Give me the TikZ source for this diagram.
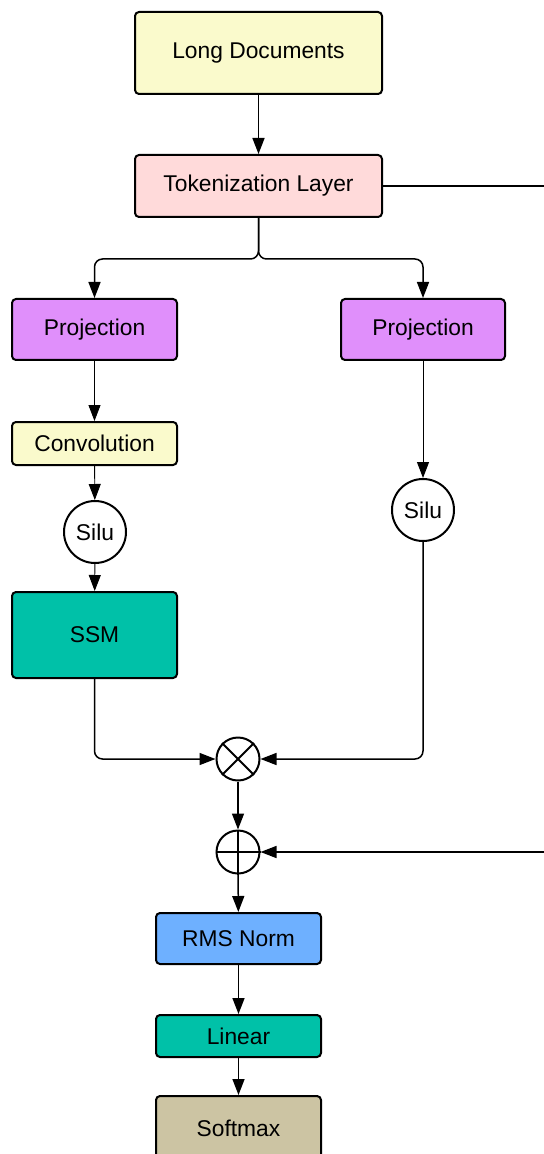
\documentclass[tikz,border=0pt]{standalone}
\usepackage{fontspec}
\setmainfont{Liberation Sans}
\usetikzlibrary{positioning, calc, arrows.meta}

\definecolor{docyellow}{HTML}{FAFACC}
\definecolor{tokpink}{HTML}{FFDADA}
\definecolor{projviolet}{HTML}{E08FFB}
\definecolor{ssmteal}{HTML}{00C1A8}
\definecolor{normblue}{HTML}{6EB0FF}
\definecolor{softkhaki}{HTML}{CCC4A3}

\tikzset{
    blk/.style={draw, line width=1pt, rounded corners=2pt, inner sep=0pt,
        font=\fontsize{11.4}{13}\selectfont},
    act/.style={draw, circle, line width=1pt, fill=white, inner sep=0pt,
        minimum size=31pt, font=\fontsize{11.4}{13}\selectfont},
    opnode/.style={draw, circle, line width=1pt, inner sep=0pt, minimum size=21.5pt},
    arr/.style={-{Triangle[length=8pt,width=6pt]}, line width=0.75pt},
    thinarr/.style={-{Triangle[length=8pt,width=6pt]}, line width=0.45pt},
}

\begin{document}
\begin{tikzpicture}[x=0.5pt, y=-0.5pt]
    % 画像の大きさ
    \def\W{543}
    \def\H{1154}
    \useasboundingbox (0,0) rectangle (\W,\H);

    % 入力
    \node[blk, fill=docyellow, minimum width=123.5pt, minimum height=41pt] (doc) at (258.5,53) {Long Documents};
    \node[blk, fill=tokpink, minimum width=123.5pt, minimum height=31pt] (tok) at (258.5,186) {Tokenization Layer};

    % 左の枝
    \node[blk, fill=projviolet, minimum width=82.5pt, minimum height=30.5pt] (projL) at (94.5,329.5) {Projection};
    \node[blk, fill=docyellow, minimum width=82.5pt, minimum height=21.5pt] (conv) at (94.5,443.5) {Convolution};
    \node[act] (siluL) at (95,532) {Silu};
    \node[blk, fill=ssmteal, minimum width=82.5pt, minimum height=43pt] (ssm) at (94.5,635) {SSM};

    % 右の枝
    \node[blk, fill=projviolet, minimum width=82pt, minimum height=30.5pt] (projR) at (423,329.5) {Projection};
    \node[act] (siluR) at (423,510) {Silu};

    % 積と和
    \node[opnode] (mul) at (238,759) {};
    \draw[line width=1pt] (mul.north west) -- (mul.south east);
    \draw[line width=1pt] (mul.north east) -- (mul.south west);
    \node[opnode] (add) at (238,852) {};
    \draw[line width=1pt] (add.north) -- (add.south);
    \draw[line width=1pt] (add.west) -- (add.east);

    % 出力
    \node[blk, fill=normblue, minimum width=82.5pt, minimum height=25.5pt] (norm) at (238.5,938.5) {RMS Norm};
    \node[blk, fill=ssmteal, minimum width=82.5pt, minimum height=21pt] (lin) at (238.5,1036) {Linear};
    \node[blk, fill=softkhaki, minimum width=82.5pt, minimum height=32pt] (soft) at (238.5,1128) {Softmax};

    % 残差の経路
    \coordinate (skip) at (\W+20,186);

    % 矢印
    \draw[arr] (doc) -- (tok);
    \draw[arr, rounded corners=4pt] (tok.south) -- ++(0,41) -| (projL.north);
    \draw[arr, rounded corners=4pt] (tok.south) -- ++(0,41) -| (projR.north);
    \draw[thinarr] (projL) -- (conv);
    \draw[thinarr] (conv) -- (siluL);
    \draw[thinarr] (siluL) -- (ssm);
    \draw[thinarr] (projR) -- (siluR);
    \draw[arr, rounded corners=4pt] (ssm.south) |- (mul.west);
    \draw[arr, rounded corners=4pt] (siluR.south) |- (mul.east);
    \draw[arr] (mul) -- (add);
    \draw[line width=0.75pt] (tok.east) -- (skip);
    \draw[arr] (skip) |- (add.east);
    \draw[arr] (add) -- (norm);
    \draw[arr] (norm) -- (lin);
    \draw[arr] (lin) -- (soft);
\end{tikzpicture}
\end{document}
